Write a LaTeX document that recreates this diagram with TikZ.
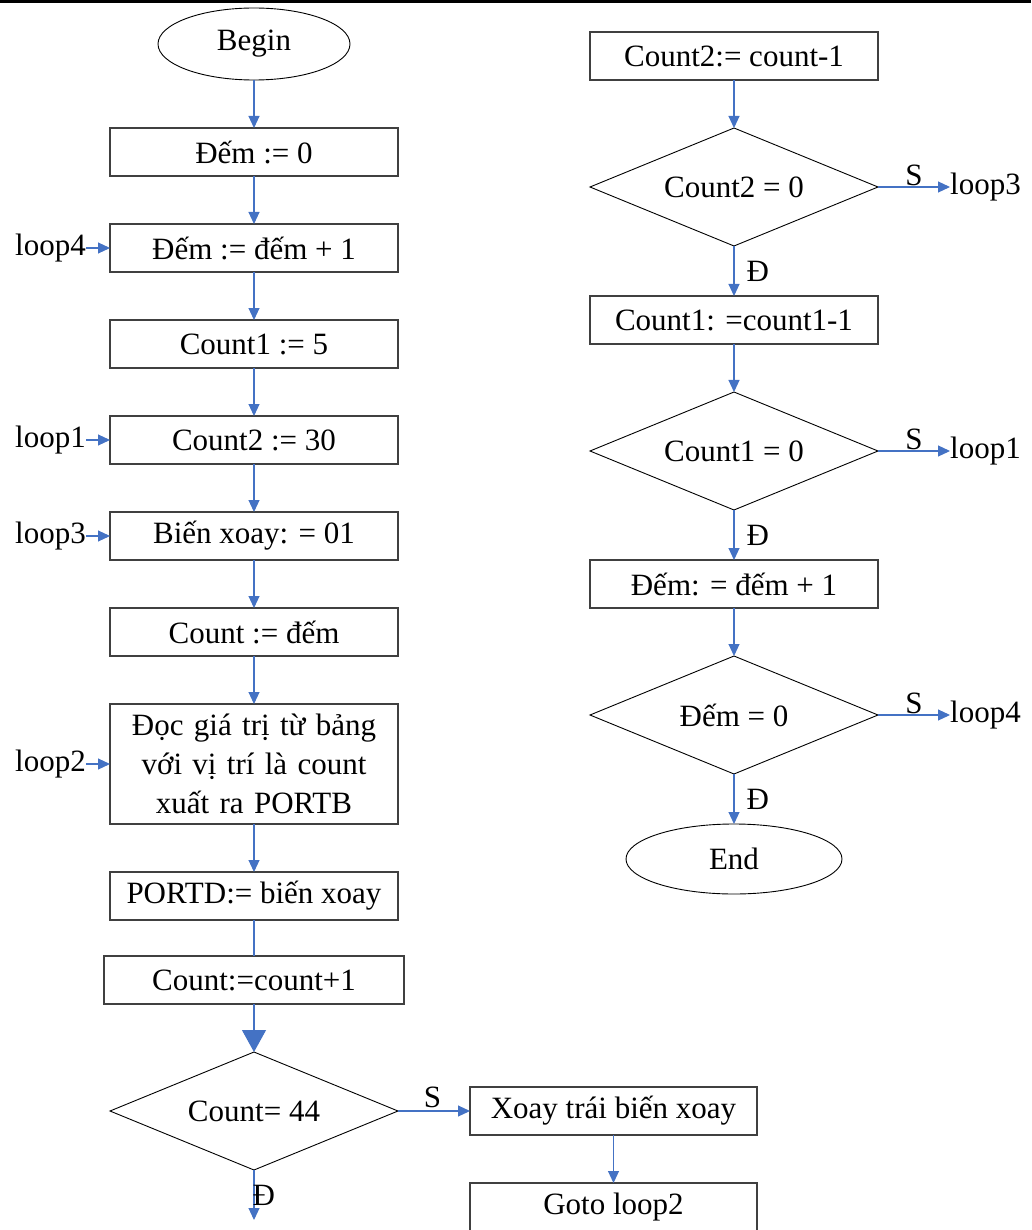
\documentclass[tikz,border=0pt]{standalone}
\usepackage{fontspec}
\setmainfont{Liberation Serif}
\usepackage{xcolor}
\usetikzlibrary{shapes.geometric, arrows.meta, positioning, calc}
\definecolor{flecha}{RGB}{68,114,196}
\definecolor{borde}{RGB}{64,64,64}

\begin{document}
\begin{tikzpicture}[
  x=1pt, y=-1pt,
  font=\fontsize{31}{39}\selectfont,
  bloque/.style={
    rectangle, draw=borde, line width=1.4pt, outer sep=0pt,
    minimum width=288pt, minimum height=48pt, inner sep=0pt
  },
  decision/.style={
    diamond, draw=black, line width=0.9pt, aspect=2.44, outer sep=0pt,
    minimum width=288pt, minimum height=118pt, inner sep=0pt
  },
  terminal/.style={
    ellipse, draw=black, line width=0.9pt, inner sep=0pt, outer sep=0pt
  },
  etiqueta/.style={inner sep=0pt},
  flujo/.style={draw=flecha, line width=1.1pt, -{Triangle[length=12pt,width=11pt]}},
  node distance=48pt
]
\useasboundingbox (0,0) rectangle (1031,1230);
\draw[line width=2.6pt] (0,1.3) -- (1031,1.3);

% ── COLUMNA IZQUIERDA ─────────────────────────────────────────

\node[terminal, minimum width=192pt, minimum height=72pt] (inicio) at (254,44) {Begin};
\node[bloque, below=of inicio] (dem0) {Đếm := 0};
\node[bloque, below=of dem0] (dem1) {Đếm := đếm + 1};
\node[bloque, below=of dem1] (c1) {Count1 := 5};
\node[bloque, below=of c1] (c2) {Count2 := 30};
\node[bloque, below=of c2] (bien) {Biến xoay: = 01};
\node[bloque, below=of bien] (cnt) {Count := đếm};
\node[bloque, below=of cnt, minimum height=120pt, text width=288pt, align=center] (leer) {%
  Đọc giá trị từ bảng\\với vị trí là count\\xuất ra PORTB};
\node[bloque, below=of leer] (portd) {PORTD:= biến xoay};
\node[bloque, below=36pt of portd, minimum width=300pt] (inc) {Count:=count+1};
\node[decision, below=of inc] (d44) {Count= 44};
\node[bloque, right=72pt of d44, minimum width=287pt] (xoay) {Xoay trái biến xoay};
\node[bloque, below=of xoay, minimum width=287pt] (goto) {Goto loop2};
\coordinate (fin44) at ($(d44.south)+(0,50)$);

\node[etiqueta, left=24pt of dem1] (l4) {loop4};
\node[etiqueta, left=24pt of c2] (l1) {loop1};
\node[etiqueta, left=24pt of bien] (l3) {loop3};
\node[etiqueta, left=24pt of leer] (l2) {loop2};

% ── COLUMNA DERECHA ───────────────────────────────────────────

\node[bloque] (r2) at (734,56) {Count2:= count-1};
\node[decision, below=of r2] (dc2) {Count2 = 0};
\node[bloque, below=50pt of dc2] (r1) {Count1: =count1-1};
\node[decision, below=of r1] (dc1) {Count1 = 0};
\node[bloque, below=50pt of dc1] (rd) {Đếm: = đếm + 1};
\node[decision, below=of rd] (dd) {Đếm = 0};
\node[terminal, below=50pt of dd, minimum width=216pt, minimum height=70pt] (fin) {End};

\node[etiqueta, right=72pt of dc2] (s3) {loop3};
\node[etiqueta, right=72pt of dc1] (s1) {loop1};
\node[etiqueta, right=72pt of dd] (s4) {loop4};

% ── FLECHAS ───────────────────────────────────────────────────

\draw[flujo] (inicio) -- (dem0);
\draw[flujo] (dem0) -- (dem1);
\draw[flujo] (dem1) -- (c1);
\draw[flujo] (c1) -- (c2);
\draw[flujo] (c2) -- (bien);
\draw[flujo] (bien) -- (cnt);
\draw[flujo] (cnt) -- (leer);
\draw[flujo] (leer) -- (portd);
\draw[draw=flecha, line width=1.1pt] (portd) -- (inc);
\draw[draw=flecha, line width=1.1pt, -{Triangle[length=22pt,width=24pt]}] (inc) -- (d44);
\draw[flujo] (d44) -- node[above, pos=0.48, inner sep=3pt]{S} (xoay);
\draw[flujo] (d44.south) -- node[right, pos=0.5, inner sep=0pt, xshift=-2pt]{Đ} (fin44);
\draw[flujo] (xoay) -- (goto);

\draw[flujo] (l4) -- (dem1);
\draw[flujo] (l1) -- (c2);
\draw[flujo] (l3) -- (bien);
\draw[flujo] (l2) -- (leer);

\draw[flujo] (r2) -- (dc2);
\draw[flujo] (dc2) -- node[right, inner sep=12pt]{Đ} (r1);
\draw[flujo] (r1) -- (dc1);
\draw[flujo] (dc1) -- node[right, inner sep=12pt]{Đ} (rd);
\draw[flujo] (rd) -- (dd);
\draw[flujo] (dd) -- node[right, inner sep=12pt]{Đ} (fin);

\draw[flujo] (dc2) -- node[above, inner sep=1pt]{S} (s3);
\draw[flujo] (dc1) -- node[above, inner sep=1pt]{S} (s1);
\draw[flujo] (dd) -- node[above, inner sep=1pt]{S} (s4);

\end{tikzpicture}
\end{document}
